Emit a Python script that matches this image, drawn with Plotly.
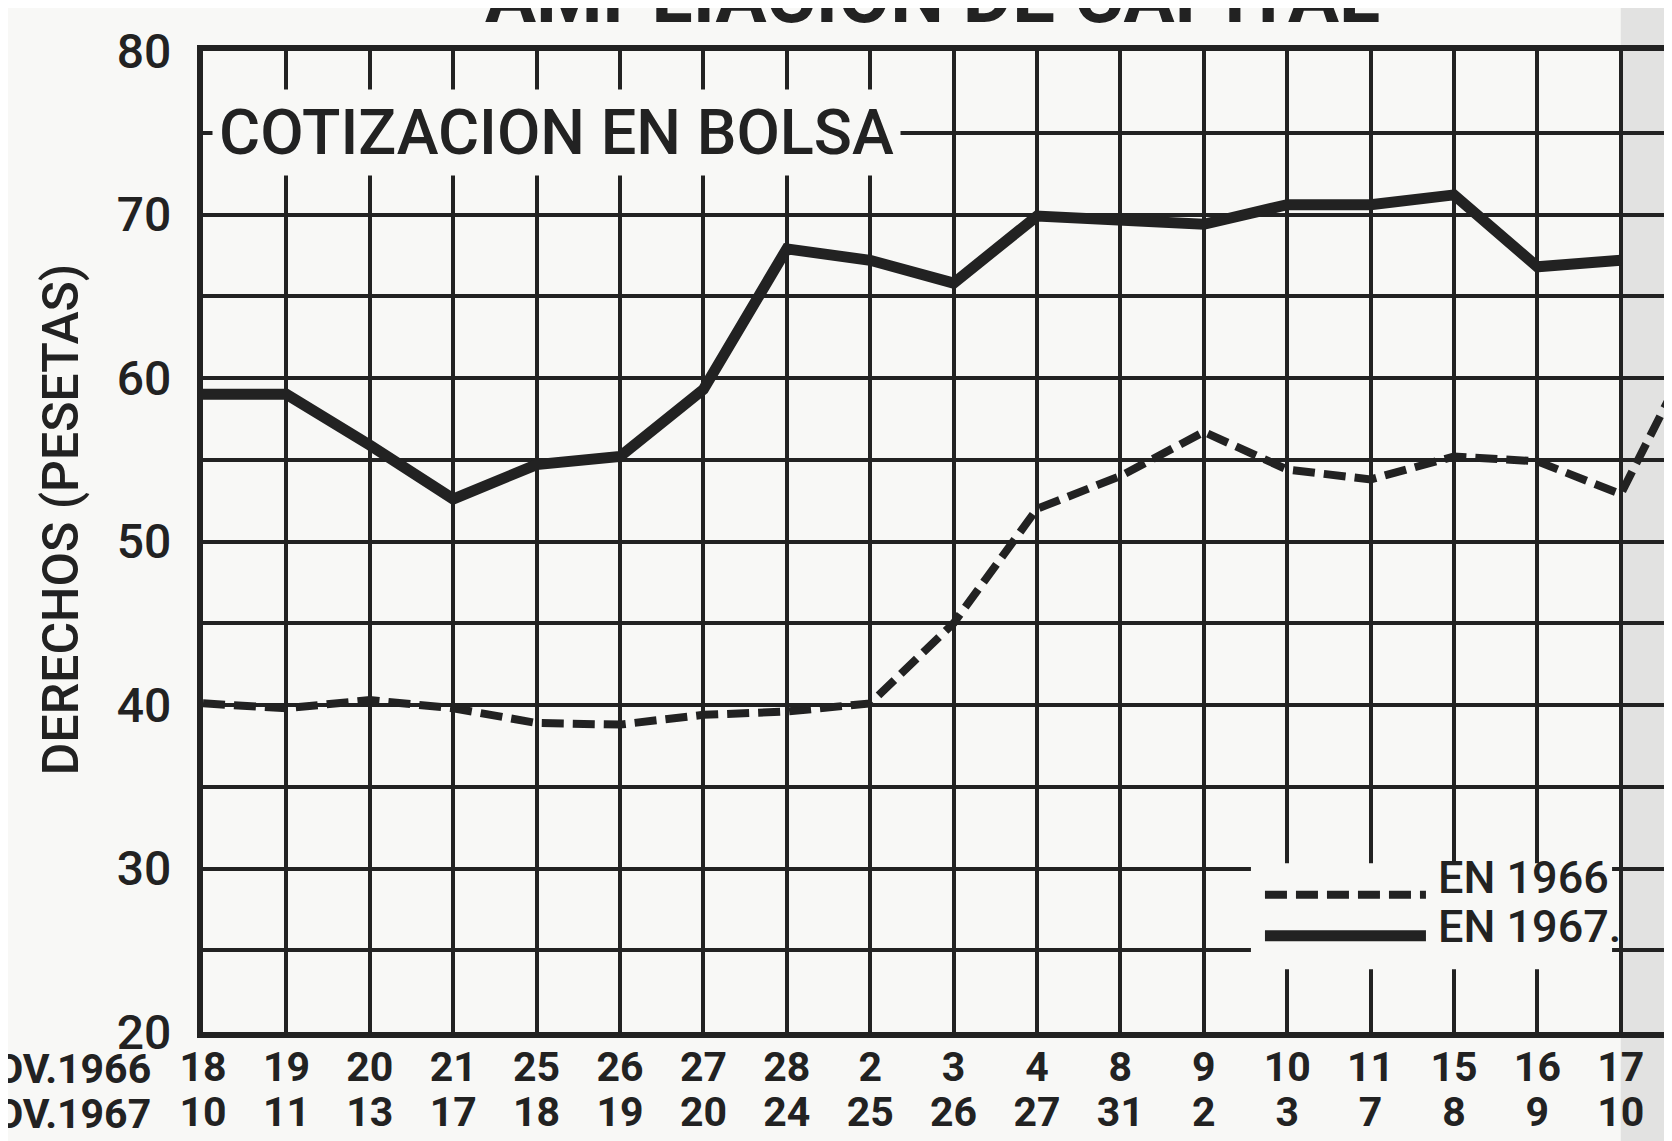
import plotly.graph_objects as go

# ---- data ----
labels_1966 = ["18", "19", "20", "21", "25", "26", "27", "28", "2", "3", "4", "8", "9", "10", "11", "15", "16", "17", "18"]
labels_1967 = ["10", "11", "13", "17", "18", "19", "20", "24", "25", "26", "27", "31", "2", "3", "7", "8", "9", "10", ""]
values_1966 = [40.1, 39.8, 40.3, 39.8, 38.9, 38.8, 39.4, 39.6, 40.1, 45.0, 52.0, 54.0, 56.7, 54.4, 53.8, 55.2, 54.9, 52.9, 63.0]
values_1967 = [59.0, 59.0, 55.9, 52.6, 54.7, 55.2, 59.3, 67.9, 67.2, 65.8, 69.9, 69.7, 69.4, 70.6, 70.6, 71.2, 66.8, 67.2, None]
y_ticks = [20, 30, 40, 50, 60, 70, 80]

x = list(range(len(labels_1966)))
INK = "#222222"
BG = "#f8f8f6"
FONT = "Roboto, Liberation Sans, sans-serif"

fig = go.Figure()
fig.add_trace(go.Scatter(x=x, y=values_1966, mode="lines", name="EN 1966",
                         line=dict(color=INK, width=8, dash="22px,9px"), showlegend=False))
fig.add_trace(go.Scatter(x=x, y=values_1967, mode="lines", name="EN 1967",
                         line=dict(color=INK, width=11), showlegend=False))
# second axis for the 1967 date row
fig.add_trace(go.Scatter(x=x, y=values_1967, mode="lines", xaxis="x2", hoverinfo="skip",
                         line=dict(color="rgba(0,0,0,0)", width=0), showlegend=False))

fig.update_layout(
    width=1672, height=1141,
    margin=dict(l=195, r=0, t=43, b=117),
    paper_bgcolor=BG, plot_bgcolor=BG,
    font=dict(family=FONT, color=INK),
    xaxis=dict(range=[0, 17.71], tickvals=x, ticktext=labels_1966,
               showgrid=True, gridcolor=INK, gridwidth=3.5, zeroline=False,
               showline=True, linecolor=INK, linewidth=6, mirror=True,
               ticks="", ticklabelstandoff=-6,
               tickfont=dict(size=41, family=FONT, weight="bold")),
    xaxis2=dict(range=[0, 17.71], tickvals=x, ticktext=labels_1967, overlaying="x",
                anchor="y", side="bottom", showgrid=False, zeroline=False, showline=False,
                ticks="", ticklabelstandoff=52,
                tickfont=dict(size=41, family=FONT, weight="bold")),
    yaxis=dict(range=[20, 80], tickvals=y_ticks, showgrid=True, gridcolor=INK, gridwidth=3.5,
               zeroline=False, showline=True, linecolor=INK, linewidth=6,
               ticks="", ticklabelstandoff=16, tickfont=dict(size=48, family=FONT, weight=500),
               minor=dict(dtick=5, tick0=20, showgrid=True, gridcolor=INK, gridwidth=3.5)),
)

# y-axis title
fig.add_annotation(text="DERECHOS (PESETAS)", xref="paper", yref="paper", x=-0.096, y=0.522,
                   xanchor="center", yanchor="middle", textangle=-90, showarrow=False,
                   font=dict(size=50, family=FONT, color=INK, weight=500))

# page-curl shading on the right
fig.add_shape(type="rect", xref="x", yref="paper", x0=17.0, x1=17.71, y0=-0.12, y1=1.05,
              fillcolor="rgba(150,150,150,0.22)", line=dict(width=0), layer="below")

# inner title
fig.add_annotation(text="COTIZACION EN BOLSA", xref="paper", yref="y", x=0.006, y=75,
                   xanchor="left", yanchor="middle", showarrow=False, bgcolor=BG, borderpad=6,
                   font=dict(size=63, family=FONT, color=INK, weight=500))

# main title (cut at top)
fig.add_annotation(text="<b>AMPLIACION DE CAPITAL</b>", xref="paper", yref="paper", x=0.494, y=1,
                   yshift=8, xanchor="center", yanchor="bottom", showarrow=False,
                   font=dict(size=76, family=FONT, color=INK))

# row labels
for txt, ys in [("NOV.1966", -0.038), ("NOV.1967", -0.084)]:
    fig.add_annotation(text="<b>" + txt + "</b>", xref="paper", yref="paper", x=-0.034, y=ys,
                       xanchor="right", yanchor="middle", showarrow=False,
                       font=dict(size=41, family=FONT, color=INK))

# custom legend
fig.add_shape(type="rect", xref="paper", yref="paper", x0=0.7095, x1=0.954, y0=0.064, y1=0.172,
              fillcolor=BG, line=dict(width=0), layer="above")
fig.add_shape(type="line", xref="paper", yref="paper", x0=0.719, x1=0.828, y0=0.140, y1=0.140,
              line=dict(color=INK, width=8, dash="22px,9px"), layer="above")
fig.add_shape(type="line", xref="paper", yref="paper", x0=0.719, x1=0.828, y0=0.098, y1=0.098,
              line=dict(color=INK, width=11), layer="above")
fig.add_annotation(text="EN 1966", xref="paper", yref="paper", x=0.835, y=0.157, xanchor="left",
                   yanchor="middle", showarrow=False, font=dict(size=45, family=FONT, color=INK, weight=500))
fig.add_annotation(text="EN 1967.", xref="paper", yref="paper", x=0.835, y=0.108, xanchor="left",
                   yanchor="middle", showarrow=False, font=dict(size=45, family=FONT, color=INK, weight=500))

fig.write_html("out.html")
